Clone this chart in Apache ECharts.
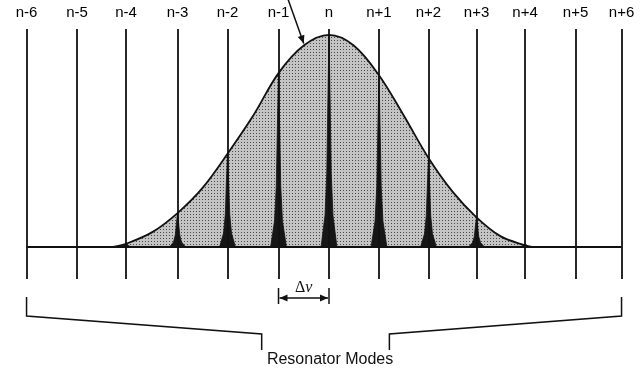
<!DOCTYPE html>
<html><head><meta charset="utf-8">
<script src="https://cdn.jsdelivr.net/npm/echarts@6/dist/echarts.min.js"></script>
<style>html,body{margin:0;padding:0;background:#fff}#c{width:643px;height:378px}</style>
</head><body><div id="c"></div>
<script>
// ---- data ----
const tickLabels = ['n-6','n-5','n-4','n-3','n-2','n-1','n','n+1','n+2','n+3','n+4','n+5','n+6'];
// mode line positions (units of one mode spacing, n = 0)
const modePos = [-6.11,-5.09,-4.10,-3.06,-2.05,-1.02,0,1.01,2.01,2.98,3.96,4.98,5.91];
// gain curve (relative height, peak = 100)
const gainX = [-4.36,-4.1,-3.57,-3.06,-2.55,-2.05,-1.53,-1.02,-0.51,0,0.5,1.01,1.51,2.01,2.5,2.98,3.47,3.96,4.1];
const gainY = [0,1.5,7,16,28,44,62,82,95,100,95,81,62,42,26,14,5,0.8,0];
// lasing modes under the gain curve (n-4 .. n+4)
const spikeModes = [-4.10,-3.06,-2.05,-1.02,0,1.01,2.01,2.98,3.96];
const spikeGain  = [1.5,16,44,82,100,81,42,14,1.5];
// shape of one narrow mode profile: offset (mode units) and fraction of height
const spikeDx   = [-0.16,-0.08,-0.045,-0.022,0,0.022,0.045,0.08,0.16];
const spikeFrac = [0,0.15,0.35,0.7,1,0.7,0.35,0.15,0];
const bottomLabel = 'Resonator Modes';

// ---- chart ----
const chart = echarts.init(document.getElementById('c'), null, {renderer:'canvas'});
const pc = document.createElement('canvas'); pc.width = 3; pc.height = 3;
const g = pc.getContext('2d');
g.fillStyle = '#c4c4c4'; g.fillRect(0,0,3,3);
g.fillStyle = '#4a4a4a'; g.fillRect(1,1,1,1);

const font = 'Liberation Sans, Arial, sans-serif';
const series = [];
series.push({
  type:'line', data: gainX.map((x,i)=>[x,gainY[i]]), smooth:0.35, symbol:'none',
  lineStyle:{color:'#111',width:1.8}, areaStyle:{color:{image:pc,repeat:'repeat'},opacity:1,origin:'auto'},
  z:2, silent:true
});
spikeModes.forEach((m,j)=>{
  series.push({
    type:'line', data: spikeDx.map((d,i)=>[m+d, spikeGain[j]*spikeFrac[i]]), symbol:'none',
    lineStyle:{color:'#111',width:0.8}, areaStyle:{color:'#161616',opacity:1,origin:'auto'}, z:3, silent:true
  });
});
// baseline between the outer modes
series.push({
  type:'line', data:[[modePos[0],0],[modePos[modePos.length-1],0]], symbol:'none',
  lineStyle:{color:'#111',width:1.8}, z:5, silent:true
});
// vertical mode lines, on top, with their labels
series.push({
  type:'line', data:[], z:6, silent:true,
  markLine:{ silent:true, symbol:'none', animation:false,
    lineStyle:{color:'#111',width:1.8,type:'solid'},
    data: modePos.map((p,i)=>({xAxis:p, label:{show:true, position:'end', distance:9,
      formatter:tickLabels[i], color:'#000', fontSize:15, fontFamily:font}})) }
});

chart.setOption({
  animation:false,
  grid:{left:7.25,right:2.15,top:29,bottom:99},
  xAxis:{type:'value',min:-6.5,max:6.3,show:false},
  yAxis:{type:'value',min:-15.1,max:102.8,show:false},
  series
});

// annotations
const px = (x,y)=>chart.convertToPixel({gridIndex:0},[x,y]);
const xm1 = px(modePos[5],0)[0], x0 = px(modePos[6],0)[0];
const xl = px(modePos[0],0)[0], xr = px(modePos[12],0)[0];
const bl = px(-1.36,0)[0], br = px(1.22,0)[0];
const a1 = px(-0.83,117), a2 = px(-0.51,96);
const ang = Math.atan2(a2[1]-a1[1], a2[0]-a1[0]);
const ah = 8, aw = 3.5;
function head(p, ang){
  const bx = p[0]-ah*Math.cos(ang), by = p[1]-ah*Math.sin(ang);
  return [[p[0],p[1]],[bx+aw*Math.sin(ang),by-aw*Math.cos(ang)],[bx-aw*Math.sin(ang),by+aw*Math.cos(ang)]];
}
const ls = {stroke:'#111',lineWidth:1.5};
chart.setOption({graphic:[
  {type:'line',shape:{x1:a1[0],y1:a1[1],x2:a2[0],y2:a2[1]},style:ls,z:10},
  {type:'polygon',shape:{points:head(a2,ang)},style:{fill:'#111'},z:10},
  // delta nu
  {type:'line',shape:{x1:xm1,y1:288,x2:xm1,y2:304},style:ls},
  {type:'line',shape:{x1:x0,y1:288,x2:x0,y2:304},style:ls},
  {type:'line',shape:{x1:xm1+1,y1:298,x2:x0-1,y2:298},style:ls},
  {type:'polygon',shape:{points:head([xm1+1,298],Math.PI)},style:{fill:'#111'}},
  {type:'polygon',shape:{points:head([x0-1,298],0)},style:{fill:'#111'}},
  {type:'text',x:(xm1+x0)/2,y:288,style:{text:'{a|Δ}{b|ν}',align:'center',verticalAlign:'middle',
    rich:{a:{fontFamily:'Liberation Serif, serif',fontSize:16,fill:'#111'},b:{fontFamily:'Liberation Serif, serif',fontStyle:'italic',fontSize:16,fill:'#111'}}}},
  // bracket
  {type:'polyline',shape:{points:[[xl,297],[xl,316],[bl,334],[bl,350]]},style:{stroke:'#111',lineWidth:1.5,fill:null}},
  {type:'polyline',shape:{points:[[xr,297],[xr,316],[br,334],[br,350]]},style:{stroke:'#111',lineWidth:1.5,fill:null}},
  {type:'text',x:(xl+xr)/2+6,y:360,style:{text:bottomLabel,align:'center',verticalAlign:'middle',
    fontFamily:font,fontSize:16,fill:'#111'}}
]});
</script></body></html>
